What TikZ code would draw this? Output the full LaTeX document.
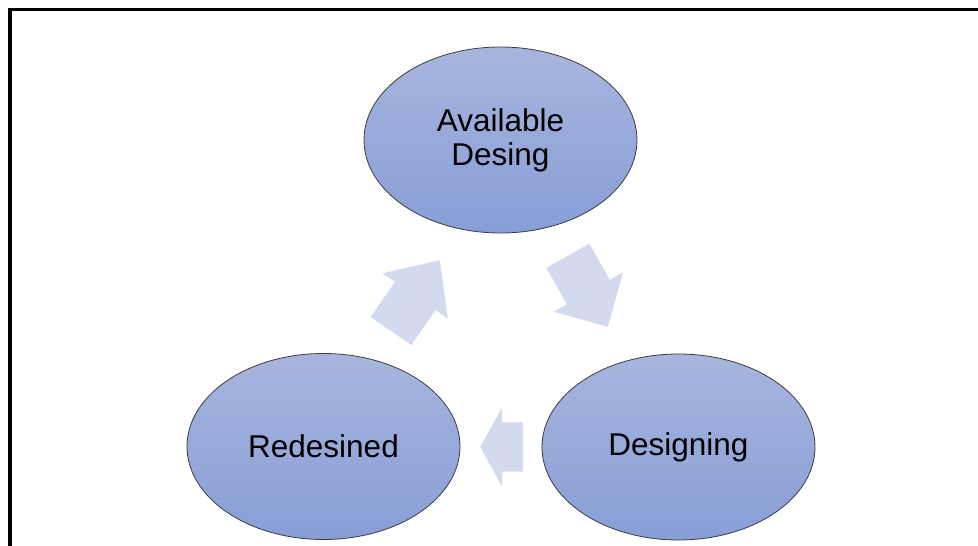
\documentclass[tikz,border=0pt]{standalone}
\usepackage{fontspec}
\setmainfont{Liberation Sans}
\usetikzlibrary{shapes.geometric,shapes.arrows}

\definecolor{ellTop}{RGB}{168,181,222}
\definecolor{ellBot}{RGB}{135,158,214}
\definecolor{ellLine}{RGB}{60,60,60}
\definecolor{arrFill}{RGB}{211,218,238}

\begin{document}
\begin{tikzpicture}[x=1pt,y=-1pt,every text node part/.style={align=center},
  phase/.style={ellipse,draw=ellLine,line width=0.8pt,top color=ellTop,bottom color=ellBot,
    minimum width=273pt,minimum height=186pt,inner sep=0pt,font=\fontsize{31.5}{34}\selectfont},
  cycarrow/.style={single arrow,fill=arrFill,draw=none,inner xsep=0pt,inner ysep=24.5pt,
    minimum width=79pt,single arrow head extend=15pt,anchor=tip}]
  \useasboundingbox (0,0) rectangle (978,546);
  \draw[line width=3.5pt] (10,546) -- (10,9.5) -- (978,9.5);

  \node[phase]  (avail)  at (500.5,140)  {Available\\Desing};
  \node[phase]  (desgn)  at (678.5,447)  {Designing};
  \node[phase]  (redes)  at (323.5,446.5)  {Redesined};

  \node[cycarrow,minimum height=81.5pt,single arrow tip angle=90,rotate=-60.6]  (toDesgn)  at (608,327)  {};
  \node[cycarrow,minimum height=43pt,single arrow tip angle=122,rotate=180]  (toRedes)  at (480,447)  {};
  \node[cycarrow,minimum height=86pt,single arrow tip angle=85,rotate=55.4]  (toAvail)  at (440,260)  {};
\end{tikzpicture}
\end{document}
